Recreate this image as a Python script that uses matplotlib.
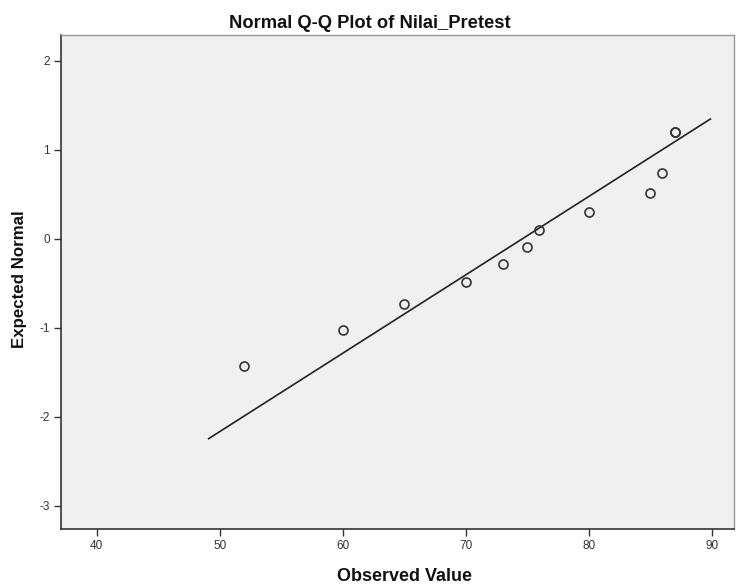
import numpy as np
import matplotlib.pyplot as plt

plt.rcParams['font.family'] = ['Liberation Sans', 'DejaVu Sans']
plt.rcParams['axes.unicode_minus'] = False

observed = [52, 60, 65, 70, 73, 75, 76, 80, 85, 86, 87, 87]
expected = [-1.43, -1.02, -0.73, -0.49, -0.28, -0.09, 0.10, 0.30, 0.51, 0.74, 1.20, 1.20]

# reference line: z = (x - mean) / sd, drawn over this x range
line_mean = 74.6
line_sd = 11.36
line_x = [49.1, 89.9]

x_ticks = [40, 50, 60, 70, 80, 90]
y_ticks = [-3, -2, -1, 0, 1, 2]

fig = plt.figure(figsize=(7.36, 5.85), dpi=100)
ax = fig.add_axes([0.083, 0.0957, 0.914, 0.8444])
ax.set_facecolor('#f0f0f0')

lx = np.array(line_x)
ax.plot(lx, (lx - line_mean) / line_sd, color='#222222', lw=1.2, zorder=2)
ax.plot(observed, expected, 'o', ms=6.5, mfc='none', mec='#333333', mew=1.2, zorder=3)

ax.set_xlim(37.1, 91.8)
ax.set_ylim(-3.26, 2.29)
ax.set_xticks(x_ticks)
ax.set_yticks(y_ticks)
ax.tick_params(direction='out', length=5, width=1, color='#333333',
               labelsize=8.5, labelcolor='#333333', pad=3)

for side in ['left', 'bottom']:
    ax.spines[side].set_color('#333333')
    ax.spines[side].set_linewidth(1.2)
for side in ['top', 'right']:
    ax.spines[side].set_color('#999999')
    ax.spines[side].set_linewidth(1.0)

fig.text(0.503, 0.952, 'Normal Q-Q Plot of Nilai_Pretest', ha='center', va='baseline',
         fontsize=13.2, fontweight='bold', color='#111111')
fig.text(0.55, 0.006, 'Observed Value', ha='center', va='baseline',
         fontsize=13, fontweight='bold', color='#111111')
fig.text(0.027, 0.523, 'Expected Normal', ha='center', va='center', rotation=90,
         fontsize=12.2, fontweight='bold', color='#111111')

fig.savefig('out.png', dpi=100)
